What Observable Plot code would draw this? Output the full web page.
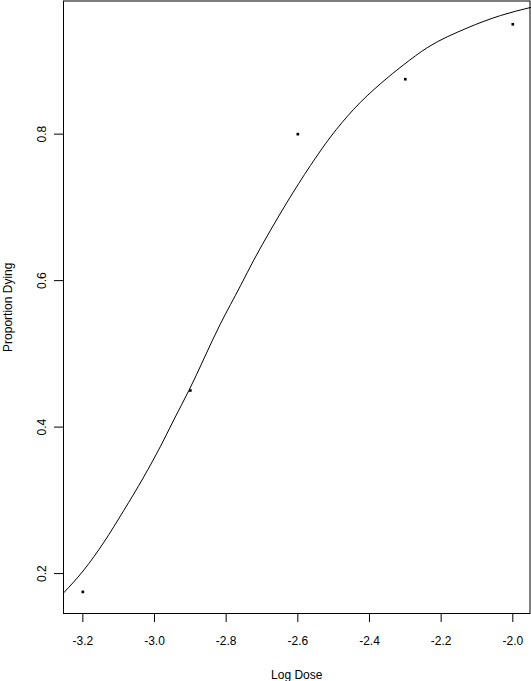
<!DOCTYPE html>
<html><head><meta charset="utf-8">
<script src="https://cdn.jsdelivr.net/npm/d3@7"></script>
<script src="https://cdn.jsdelivr.net/npm/@observablehq/plot@0.6"></script>
<style>body{margin:0;background:#fff}</style>
</head><body><div id="chart"></div>
<script>
// Observed data points
const doseX = [-3.2, -2.9, -2.6, -2.3, -2.0];
const propY = [0.175, 0.45, 0.8, 0.875, 0.95];
// Fitted curve
const curveX = [-3.253, -3.197, -3.141, -3.086, -3.030, -2.983, -2.946, -2.904, -2.816, -2.760, -2.723, -2.676, -2.630, -2.565, -2.509, -2.444, -2.369, -2.304, -2.239, -2.127, -2.034, -1.950];
const curveY = [0.174, 0.205, 0.243, 0.286, 0.332, 0.374, 0.410, 0.450, 0.541, 0.593, 0.628, 0.669, 0.707, 0.757, 0.796, 0.834, 0.869, 0.895, 0.918, 0.945, 0.962, 0.973];
const xTicks = [-3.2, -3.0, -2.8, -2.6, -2.4, -2.2, -2.0];
const yTicks = [0.2, 0.4, 0.6, 0.8];
const xLabel = "Log Dose";
const yLabel = "Proportion Dying";

const points = doseX.map((x, i) => ({x, y: propY[i]}));
const curve = curveX.map((x, i) => ({x, y: curveY[i]}));

const chart = Plot.plot({
  width: 531,
  height: 681,
  marginLeft: 63,
  marginRight: 1.5,
  marginTop: 0.5,
  marginBottom: 68,
  style: {fontFamily: "'Liberation Sans', Arial, sans-serif", fontSize: "12px", color: "black", background: "white", overflow: "visible"},
  x: {domain: [-3.254, -1.952]},
  y: {domain: [0.1455, 0.9818]},
  marks: [
    Plot.frame({stroke: "black", strokeWidth: 1}),
    Plot.line(curve, {x: "x", y: "y", stroke: "black", strokeWidth: 1, curve: "monotone-x"}),
    Plot.dot(points, {x: "x", y: "y", symbol: "square", r: 1.5, fill: "black", stroke: "none"}),
    Plot.axisX({ticks: xTicks, tickSize: 9, tickPadding: 14, tickFormat: d => d.toFixed(1),
      label: xLabel, labelAnchor: "center", labelArrow: "none", labelOffset: 65}),
    Plot.axisY({ticks: yTicks, tickSize: 9, tickPadding: 9, tickRotate: -90, tickFormat: d => d.toFixed(1),
      label: yLabel, labelAnchor: "center", labelArrow: "none", labelOffset: 60})
  ]
});
document.getElementById("chart").appendChild(chart);
</script>
</body></html>
